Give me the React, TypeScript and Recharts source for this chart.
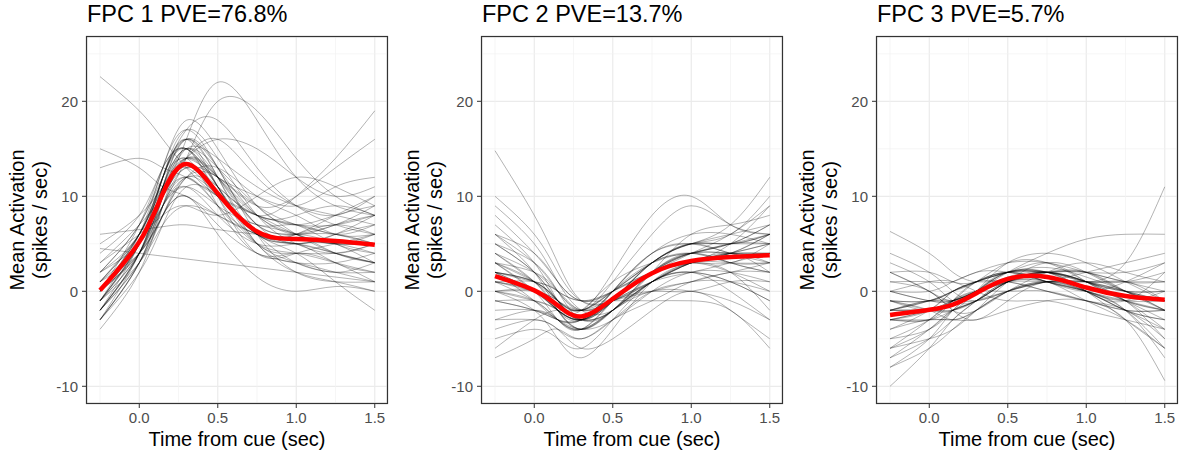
import { LineChart, Line, XAxis, YAxis, CartesianGrid, ReferenceLine } from 'recharts';

// sample times (sec from cue)
const timePoints = [-0.25, 0, 0.15, 0.3, 0.5, 0.75, 1.0, 1.25, 1.5];

const fpc1Mean = [0.1, 5.2, 10.3, 13.4, 10.3, 6.3, 5.5, 5.3, 4.9];
const fpc1Curves = [
  [-2, 4, 10, 14, 11, 6, 5, 4, 3],
  [-1, 5, 11, 15, 12, 7, 6, 6, 5],
  [0, 6, 12, 16, 13, 8, 6, 5, 6],
  [-3, 3, 9, 12, 9, 5, 4, 3, 2],
  [1, 6, 11, 13, 10, 7, 7, 6, 7],
  [-1, 4, 9, 11, 8, 5, 5, 5, 4],
  [0, 5, 12, 17, 14, 8, 5, 4, 5],
  [-2, 3, 8, 10, 7, 4, 3, 2, 1],
  [2, 7, 13, 18, 15, 9, 7, 8, 9],
  [-1, 5, 10, 13, 12, 9, 7, 6, 5],
  [0, 4, 8, 12, 13, 10, 8, 6, 6],
  [-3, 2, 7, 11, 10, 6, 3, 2, 2],
  [1, 6, 10, 14, 16, 12, 9, 8, 10],
  [3, 7, 10, 12, 9, 6, 6, 7, 9],
  [-2, 4, 11, 16, 12, 5, 3, 3, 4],
  [0, 5, 9, 11, 9, 7, 6, 4, 3],
  [2, 6, 12, 17, 18, 13, 9, 7, 6],
  [-1, 3, 7, 9, 8, 6, 5, 6, 8],
  [4, 8, 13, 15, 11, 5, 2, 1, 0],
  [0, 6, 12, 15, 10, 4, 4, 5, 6],
  [22.6, 19, 16, 13, 10, 8, 7, 7, 8],
  [15, 13, 11, 10, 8, 6, 5, 4, 3],
  [13, 14, 13, 12, 10, 8, 6, 5, 5],
  [6, 6.5, 6.8, 7, 6.5, 6, 5.5, 5, 5],
  [4.5, 4, 3.7, 3.4, 3, 2.5, 2, 1.5, 1],
  [1, 5, 10, 16, 22, 18, 12, 9, 8],
  [0, 4, 9, 14, 20, 19, 14, 10, 8],
  [2, 5, 9, 12, 11, 8, 10, 14, 19],
  [1, 4, 8, 12, 12, 9, 10, 13, 16],
  [-2, 3, 8, 12, 10, 6, 4, 1, -2],
  [0, 4, 8, 10, 6, 1.5, 0, 0.5, 0],
  [3, 6, 8, 9, 8, 10, 12, 11, 9],
  [5, 8, 11, 14, 16, 15, 12, 10, 11],
  [-1, 4, 10, 15, 14, 11, 9, 8, 7],
  [-3, 3, 10, 15, 11, 5, 4, 4, 5],
  [-2, 5, 12, 16, 12, 6, 5, 3, 2],
  [-1, 6, 13, 17, 13, 7, 6, 5, 3],
  [-4, 2, 9, 14, 12, 7, 5, 6, 7],
  [0, 7, 13, 15, 11, 6, 6, 8, 10],
  [-2, 4, 11, 15, 13, 9, 6, 4, 3],
  [1, 6, 12, 16, 11, 6, 6, 7, 6],
  [-3, 3, 9, 13, 11, 8, 7, 5, 4],
  [-1, 5, 12, 15, 10, 5, 3, 2, 3],
  [0, 6, 11, 14, 12, 8, 6, 7, 8],
  [-2, 4, 10, 14, 12, 8, 8, 9, 8],
  [-1, 5, 11, 14, 9, 4, 4, 3, 1],
  [-3, 4, 11, 16, 13, 6, 2, 1, 1],
  [2, 7, 12, 14, 12, 10, 9, 11, 12],
];

const fpc2Mean = [1.6, 0.1, -1.5, -2.65, -0.8, 1.9, 3.2, 3.6, 3.8];
const fpc2Curves = [
  [2, 0, -2, -3, -1, 2, 4, 4, 4],
  [4, 1, -1, -2, 0, 3, 5, 5, 6],
  [0, -1, -3, -4, -2, 1, 3, 3, 3],
  [6, 3, 0, -2, -1, 2, 4, 5, 7],
  [-2, -2, -3, -4, -3, 0, 2, 2, 1],
  [3, 1, -1, -3, 0, 4, 5, 5, 5],
  [8, 4, 1, -1, 0, 2, 3, 4, 6],
  [1, 0, -2, -2, 1, 3, 4, 3, 2],
  [-4, -3, -4, -5, -3, 0, 1, 2, 2],
  [9, 5, 1, -2, -2, 1, 3, 5, 9],
  [2, 1, -1, -3, -2, 2, 6, 7, 8],
  [-1, -1, -2, -3, -1, 2, 3, 2, 0],
  [5, 2, -1, -3, -2, 1, 2, 1, -1],
  [14.8, 8, 3, -1, -1, 1, 3, 4, 4],
  [-7, -5, -4, -5, -3, -1, 1, 2, 3],
  [0, -2, -5, -7, -4, 1, 3, 4, 5],
  [3, 2, 0, -2, 1, 6, 9, 7, 6],
  [1, 0, -1, -2, 2, 8, 10, 7, 6],
  [2, 1, -1, -3, -1, 3, 5, 7, 12],
  [-3, -2, -3, -4, -2, 0, 0, -1, -3],
  [4, 2, 0, -1, -1, -1, -1, -2, -6],
  [6, 4, 1, -1, 0, 3, 5, 6, 10],
  [0, 0, -1, -2, -1, 1, 2, 3, 4],
  [10, 6, 2, -1, -1, 1, 3, 4, 6],
  [-5, -4, -5, -6, -3, 1, 2, 1, -1],
  [2, 1, 0, -2, -1, 0, 0, 1, 1],
  [7, 3, -1, -3, -1, 3, 5, 6, 7],
  [-1, -2, -3, -3, 0, 4, 6, 6, 5],
  [3, 0, -2, -3, -1, 2, 3, 2, -2],
  [1, 1, 0, -1, 0, 2, 4, 6, 9],
  [-6, -3, -2, -2, -1, 0, 1, 1, 0],
  [5, 3, 0, -3, -2, 2, 4, 3, 2],
  [2, 0, -2, -3, -1, 3, 4, 5, 5],
  [3, 1, -2, -4, -2, 2, 4, 4, 4],
  [1, -1, -3, -4, -1, 3, 5, 5, 6],
  [4, 1, -2, -3, 0, 3, 4, 3, 3],
  [0, -1, -2, -3, -1, 1, 3, 4, 5],
  [3, 0, -3, -4, -1, 2, 3, 4, 3],
  [2, 1, -1, -2, 0, 3, 5, 4, 4],
  [-1, -2, -3, -3, -1, 2, 4, 5, 6],
  [5, 2, -1, -2, 0, 2, 3, 3, 5],
  [1, 0, -2, -4, -2, 1, 3, 4, 2],
  [2, -1, -3, -3, 0, 4, 5, 4, 3],
  [0, 0, -2, -3, -2, 2, 4, 5, 7],
  [-3, -3, -4, -6, -5, -2, 0, -2, -5],
  [6, 2, -2, -4, -2, 1, 2, 0, -3],
];

const fpc3Mean = [-2.5, -1.95, -1.4, -0.2, 1.3, 1.5, 0.4, -0.5, -0.9];
const fpc3Curves = [
  [-3, -2, -1, 0, 1.5, 2, 1, 0, -1],
  [-1, -1, 0, 1, 2, 2.5, 1.5, 0, -2],
  [-5, -4, -2, 0, 2, 2, 0, -2, -4],
  [2, 0, -1, 0, 1, 1, 1, 1, 1],
  [-7, -5, -3, -1, 1, 1, -1, -3, -6],
  [-2, -2, -2, -1, 0, 1, 1, 1, 2],
  [0, 0, 1, 2, 3, 3, 2, 1, 0],
  [-4, -3, -3, -2, 0, 1, 0, -2, -3],
  [4, 2, 0, -1, 0, 1, 2, 3, 4],
  [-10, -6, -3, -1, 1, 1, 0, -1, -2],
  [-2, -1, 0, 1, 3, 3, 1, -1, -3],
  [1, 0, -2, -2, 0, 2, 3, 2, 1],
  [-6, -5, -4, -2, 1, 3, 2, 0, -1],
  [6.3, 4, 2, 1, 1, 0, -1, -2, -2],
  [-3, -3, -2, -1, 1, 2, 2, 2, 3],
  [-1, -2, -3, -2, 0, 1, 0, -1, -1],
  [2, 2, 1, 1, 2, 2, 1, -1, -4],
  [-5, -3, -1, 0, 0, 0, -1, -3, -9.4],
  [-2, -1, -1, -1, 0, 1, 1, 3, 11],
  [0, -1, -1, 0, 2, 4, 5.5, 6, 6],
  [-8, -6, -4, -2, 0, 1, 1, 0, -1],
  [3, 1, -1, -1, 1, 2, 1, 0, 0],
  [-4, -2, 0, 1, 2, 2, 0, -3, -6],
  [0, 1, 1, 0, -1, -1, -2, -3, -4],
  [-1, -2, -2, 0, 3, 4, 3, 1, -1],
  [-3, -3, -3, -3, -2, -1, -1, -2, -2],
  [1, 1, 1, 2, 2, 1, 0, 1, 3],
  [-6, -4, -2, -1, 1, 2, 2, 1, 1],
  [2, 0, -2, -3, -1, 1, 0, -1, 0],
  [-2, -1, 0, 1, 1, 0, -1, -2, -5],
  [-3, -2, -1, 0, 2, 2, 1, 0, -2],
  [-2, -2, -1, 1, 2, 2, 1, -1, -2],
  [-7, -4, -2, -1, 1, 2, 1, -1, -5],
  [-1, -1, 0, 1, 2, 1, 0, -2, -6],
  [-3, -3, -1, 1, 2, 3, 1, -1, -2],
  [-2, -1, -1, 0, 1, 2, 2, 0, -1],
  [-8, -5, -2, 0, 2, 1, 0, -2, -7],
  [0, -1, -1, 0, 1, 2, 1, 0, 0],
  [-2, -2, -2, -1, 1, 2, 1, 1, -1],
  [-3, -2, 0, 1, 2, 1, 0, -2, -3],
  [-1, -2, -1, 0, 2, 2, 2, 0, -2],
  [-6, -3, -1, 0, 1, 2, 0, -1, 2],
];

const panels = [
  { title: 'FPC 1 PVE=76.8%', curves: fpc1Curves, mean: fpc1Mean },
  { title: 'FPC 2 PVE=13.7%', curves: fpc2Curves, mean: fpc2Mean },
  { title: 'FPC 3 PVE=5.7%', curves: fpc3Curves, mean: fpc3Mean },
];

const xMajor = [0, 0.5, 1, 1.5];
const xMinor = [-0.25, 0.25, 0.75, 1.25];
const yMajor = [-10, 0, 10, 20];
const yMinor = [-5, 5, 15, 25];

const FONT = '"Liberation Sans", Arial, Helvetica, sans-serif';
const PANEL_W = 395;
const H = 457;
const PLOT_L = 87;
const PLOT_T = 37;
const PLOT_W = 300;
const PLOT_H = 366;

function buildRows(curves: number[][], mean: number[]) {
  return timePoints.map((t, i) => {
    const row: Record<string, number> = { t, mean: mean[i] };
    curves.forEach((c, j) => {
      row['c' + j] = c[i];
    });
    return row;
  });
}

function Panel({ curves, mean }: { curves: number[][]; mean: number[] }) {
  const rows = buildRows(curves, mean);
  const tickStyle = { fill: '#4d4d4d', fontSize: 15, fontFamily: FONT };
  return (
    <LineChart width={PANEL_W} height={H} data={rows} margin={{ top: PLOT_T, right: 8, bottom: 24, left: 0 }}>
      <CartesianGrid stroke="#ebebeb" strokeWidth={1.2} />
      {xMinor.map(v => (
        <ReferenceLine key={'x' + v} x={v} stroke="#f2f2f2" strokeWidth={0.7} />
      ))}
      {yMinor.map(v => (
        <ReferenceLine key={'y' + v} y={v} stroke="#f2f2f2" strokeWidth={0.7} />
      ))}
      <XAxis
        type="number"
        dataKey="t"
        domain={[-0.333, 1.578]}
        allowDataOverflow
        ticks={xMajor}
        tickFormatter={(v: number) => v.toFixed(1)}
        axisLine={false}
        tickLine={{ stroke: '#333333' }}
        tickSize={5}
        tickMargin={4}
        height={30}
        tick={tickStyle}
      />
      <YAxis
        type="number"
        domain={[-11.76, 26.77]}
        allowDataOverflow
        ticks={yMajor}
        axisLine={false}
        tickLine={{ stroke: '#333333' }}
        tickSize={5}
        tickMargin={4}
        width={PLOT_L}
        tick={tickStyle}
      />
      {curves.map((_, j) => (
        <Line
          key={j}
          type="natural"
          dataKey={'c' + j}
          stroke="#000000"
          strokeOpacity={0.4}
          strokeWidth={0.75}
          dot={false}
          activeDot={false}
          isAnimationActive={false}
        />
      ))}
      <Line
        type="natural"
        dataKey="mean"
        stroke="#ff0000"
        strokeWidth={4.5}
        dot={false}
        activeDot={false}
        isAnimationActive={false}
      />
    </LineChart>
  );
}

export default function App() {
  return (
    <div style={{ position: 'absolute', left: 0, top: 0, width: 1186, height: H, background: '#fff' }}>
      {panels.map((p, i) => (
        <div key={i} style={{ position: 'absolute', left: i * PANEL_W, top: 0 }}>
          <Panel curves={p.curves} mean={p.mean} />
        </div>
      ))}
      <svg
        width={1186}
        height={H}
        style={{ position: 'absolute', left: 0, top: 0, pointerEvents: 'none' }}
        fontFamily={FONT}
      >
        {panels.map((p, i) => {
          const x0 = i * PANEL_W + PLOT_L;
          const cy = PLOT_T + PLOT_H / 2;
          return (
            <g key={i}>
              <rect x={x0 - 0.5} y={PLOT_T - 0.5} width={PLOT_W + 1} height={PLOT_H + 1} fill="none" stroke="#333333" strokeWidth={1.2} />
              <text x={x0} y={22} fontSize={23.5} fill="#000">{p.title}</text>
              <text x={x0 + PLOT_W / 2} y={446} fontSize={20} textAnchor="middle" fill="#000">
                Time from cue (sec)
              </text>
              <text x={i * PANEL_W + 24} y={cy} fontSize={20} textAnchor="middle" fill="#000" transform={`rotate(-90 ${i * PANEL_W + 24} ${cy})`}>
                Mean Activation
              </text>
              <text x={i * PANEL_W + 47} y={cy} fontSize={20} textAnchor="middle" fill="#000" transform={`rotate(-90 ${i * PANEL_W + 47} ${cy})`}>
                (spikes / sec)
              </text>
            </g>
          );
        })}
      </svg>
    </div>
  );
}
